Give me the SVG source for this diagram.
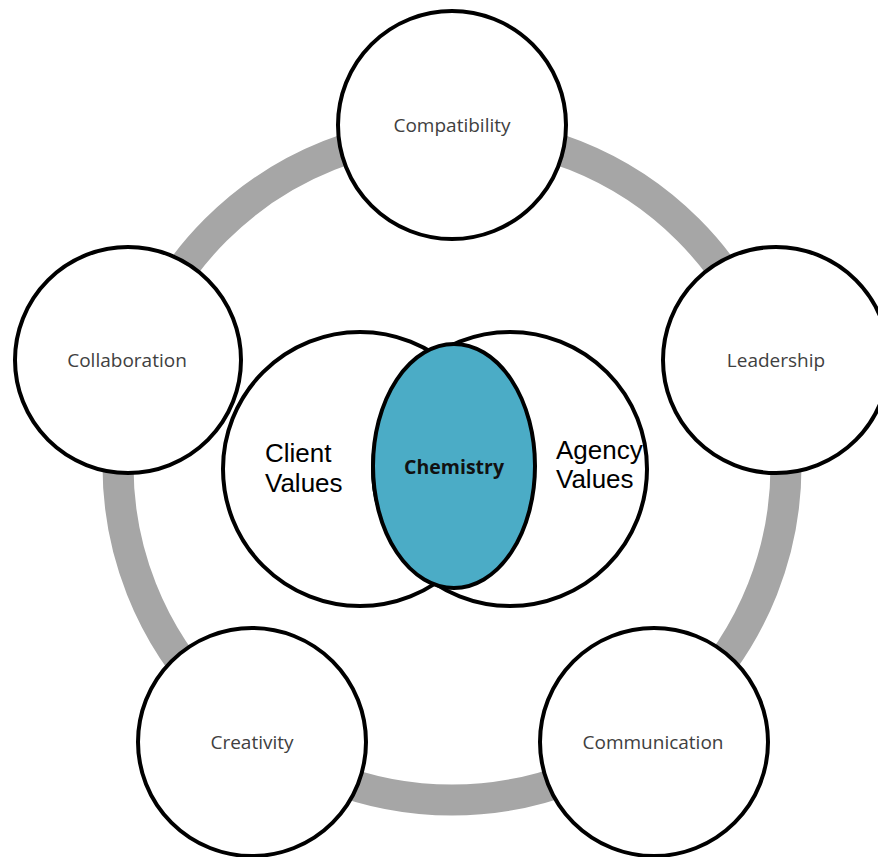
<svg xmlns="http://www.w3.org/2000/svg" width="878" height="857" viewBox="0 0 878 857">
<style>
.node{fill:#fff;stroke:#000;stroke-width:4}
.lbl{font-family:"Open Sans","Liberation Sans",sans-serif;font-size:19px;fill:#404040;text-anchor:middle}
.venn{fill:#fff;stroke:#000;stroke-width:4}
.vt{font-family:"Liberation Sans",Arial,sans-serif;font-size:26px;fill:#000}
</style>
<rect width="878" height="857" fill="#fff"/>
<g id="connectors">
<circle cx="452" cy="466" r="334" fill="none" stroke="#a6a6a6" stroke-width="31"/>
</g>
<g id="compatibility">
<circle class="node" cx="452" cy="125" r="114"/>
<text class="lbl" x="452" y="132">Compatibility</text>
</g>
<g id="leadership">
<circle class="node" cx="776" cy="360" r="113"/>
<text class="lbl" x="776" y="367">Leadership</text>
</g>
<g id="collaboration">
<circle class="node" cx="128" cy="360" r="113"/>
<text class="lbl" x="127" y="367">Collaboration</text>
</g>
<g id="creativity">
<circle class="node" cx="252" cy="742" r="114"/>
<text class="lbl" x="252" y="749">Creativity</text>
</g>
<g id="communication">
<circle class="node" cx="654" cy="742" r="114"/>
<text class="lbl" x="653" y="749">Communication</text>
</g>
<g id="client-values">
<circle class="venn" cx="360" cy="469" r="137"/>
<text class="vt" x="265" y="462">Client</text>
<text class="vt" x="265" y="492">Values</text>
</g>
<g id="agency-values">
<circle class="venn" cx="510" cy="469" r="137"/>
<text class="vt" x="556" y="459">Agency</text>
<text class="vt" x="556" y="488">Values</text>
</g>
<g id="chemistry">
<ellipse cx="454" cy="466" rx="81" ry="122" fill="#4bacc6" stroke="#000" stroke-width="4"/>
<text x="454" y="474" font-family="'Open Sans','Liberation Sans',sans-serif" font-size="19.5" font-weight="bold" fill="#111" text-anchor="middle">Chemistry</text>
</g>
</svg>
